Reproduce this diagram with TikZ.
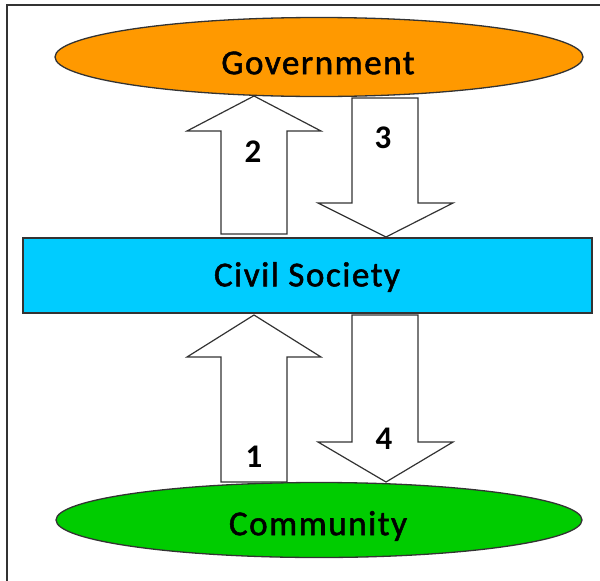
\documentclass[tikz,border=0pt]{standalone}
\usepackage{fontspec}
\setmainfont{Carlito}
\newfontfamily\spacedfont[LetterSpace=4.5,FakeBold=1.5]{Carlito}
\usetikzlibrary{shapes.geometric}
\definecolor{govorange}{HTML}{FF9900}
\definecolor{civblue}{HTML}{00CCFF}
\definecolor{comgreen}{HTML}{00CC00}
\definecolor{edgegray}{HTML}{333333}
\begin{document}
\begin{tikzpicture}[x=1pt,y=-1pt,
  ellbox/.style={ellipse,draw=edgegray,line width=1.3pt,inner sep=0pt},
  rectbox/.style={rectangle,draw=edgegray,line width=1.5pt,inner sep=0pt},
  bigtext/.style={inner sep=0pt,font=\spacedfont\fontsize{35}{40}\selectfont},
  blockarrow/.style={draw=edgegray,fill=white,line width=1.2pt,line join=miter},
  numlabel/.style={font=\fontsize{33}{40}\selectfont\bfseries,inner sep=0pt},
  framelines/.style={draw=edgegray,line width=1.6pt}]
\useasboundingbox (0,0) rectangle (600,581);
\draw[framelines] (7,581) -- (7,5) -- (600,5);
% nodes
\node[ellbox,fill=govorange,minimum width=528pt,minimum height=79pt] (gov) at (319,57) {};
\node[bigtext] (govt) at (318,63) {Government};
\node[rectbox,fill=civblue,minimum width=569pt,minimum height=75pt] (civ) at (307.5,275.5) {};
\node[bigtext] (civt) at (307,277) {Civil Society};
\node[ellbox,fill=comgreen,minimum width=526pt,minimum height=75pt] (com) at (319,520) {};
\node[bigtext] (comt) at (318,526) {Community};
% arrow 2 (up, civil society -> government)
\draw[blockarrow] (221,234) -- (221,131) -- (187,131) -- (254,96) -- (321,131) -- (287,131) -- (287,234) -- cycle;
% arrow 3 (down, government -> civil society)
\draw[blockarrow] (352,98) -- (418,98) -- (418,203) -- (453,203) -- (386,237) -- (318,203) -- (352,203) -- cycle;
% arrow 1 (up, community -> civil society)
\draw[blockarrow] (221,482) -- (221,357) -- (187,357) -- (254,315) -- (321,357) -- (287,357) -- (287,482) -- cycle;
% arrow 4 (down, civil society -> community)
\draw[blockarrow] (352,315) -- (418,315) -- (418,442) -- (453,442) -- (386,482) -- (318,442) -- (352,442) -- cycle;
\node[numlabel] (n2) at (253,152) {2};
\node[numlabel] (n3) at (383,138) {3};
\node[numlabel] (n1) at (254,457) {1};
\node[numlabel] (n4) at (384,439) {4};
\end{tikzpicture}
\end{document}
